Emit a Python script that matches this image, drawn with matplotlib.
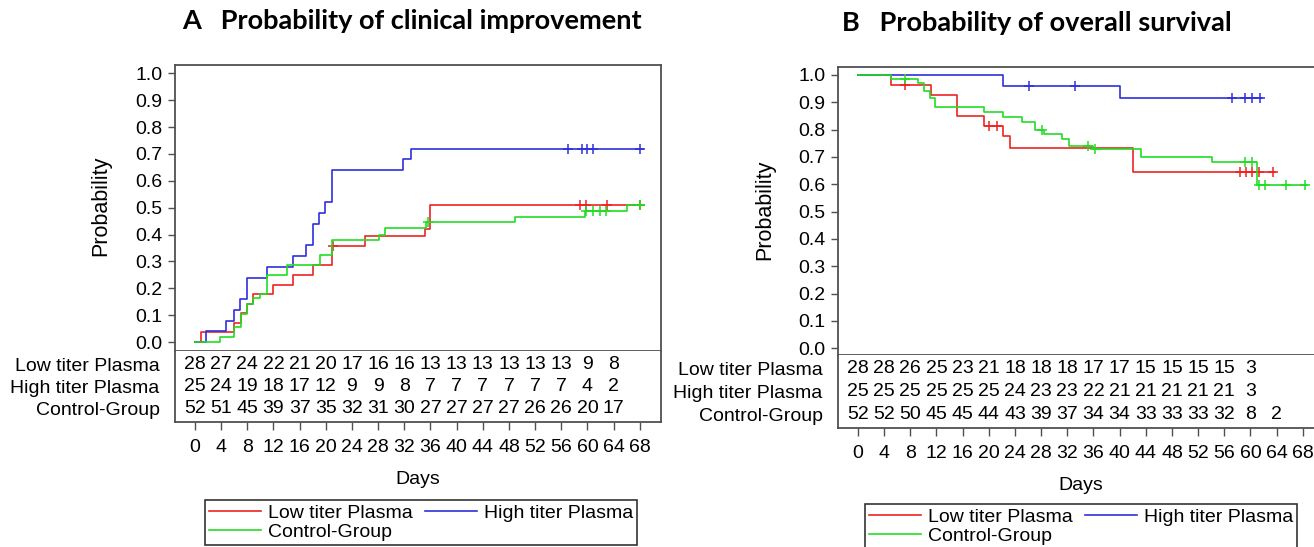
import numpy as np
import matplotlib
matplotlib.use('Agg')
import matplotlib.pyplot as plt
from matplotlib.lines import Line2D

plt.rcParams['font.family'] = ['Liberation Sans', 'DejaVu Sans']

# ---- data ----
groups = ['Low titer Plasma', 'High titer Plasma', 'Control-Group']
colors = ['#ee2222', '#3030dd', '#22dd22']
risk_days = list(range(0, 69, 4))

# A: clinical improvement (cumulative, step up)
imp_low_t = [0, 0.9, 6.0, 7.0, 7.9, 8.9, 11.9, 15.0, 18.1, 20.9, 26.0, 35.1, 35.9, 68.5]
imp_low_p = [0, 0.036, 0.071, 0.107, 0.143, 0.179, 0.214, 0.25, 0.286, 0.357, 0.395, 0.42, 0.51, 0.51]
imp_low_cens = [21.1, 58.9, 59.8, 63.0, 68.0]

imp_high_t = [0, 1.7, 4.8, 6.0, 6.9, 7.9, 11.0, 15.0, 17.0, 18.0, 19.0, 19.9, 20.9, 31.8, 33.0, 68.5]
imp_high_p = [0, 0.04, 0.08, 0.12, 0.16, 0.24, 0.28, 0.32, 0.36, 0.44, 0.48, 0.52, 0.64, 0.68, 0.72, 0.72]
imp_high_cens = [57.1, 59.1, 59.9, 60.9, 68.0]

imp_ctrl_t = [0, 3.8, 6.0, 7.0, 8.0, 8.9, 9.9, 11.0, 14.0, 19.1, 20.9, 28.1, 29.1, 35.3, 48.9, 59.6, 66.0, 68.5]
imp_ctrl_p = [0, 0.019, 0.056, 0.103, 0.14, 0.165, 0.178, 0.25, 0.286, 0.325, 0.38, 0.40, 0.425, 0.447, 0.465, 0.487, 0.51, 0.51]
imp_ctrl_cens = [35.6, 59.8, 60.9, 61.9, 62.9, 68.0]

imp_risk_low = [28, 27, 24, 22, 21, 20, 17, 16, 16, 13, 13, 13, 13, 13, 13, 9, 8]
imp_risk_high = [25, 24, 19, 18, 17, 12, 9, 9, 8, 7, 7, 7, 7, 7, 7, 4, 2]
imp_risk_ctrl = [52, 51, 45, 39, 37, 35, 32, 31, 30, 27, 27, 27, 27, 26, 26, 20, 17]

# B: overall survival (step down)
os_low_t = [0, 5.0, 11.1, 15.1, 19.3, 22.1, 23.3, 42.1, 63.8]
os_low_p = [1.0, 0.964, 0.928, 0.851, 0.814, 0.776, 0.733, 0.645, 0.645]
os_low_cens = [7.2, 20.1, 21.2, 58.4, 59.3, 60.3, 61.3, 63.5]

os_high_t = [0, 22.1, 40.0, 61.8]
os_high_p = [1.0, 0.96, 0.915, 0.915]
os_high_cens = [26.2, 33.2, 57.2, 59.2, 60.3, 61.5]

os_ctrl_t = [0, 5.0, 9.1, 10.1, 11.0, 11.8, 19.3, 22.1, 25.1, 27.1, 28.4, 31.2, 32.3, 36.0, 43.2, 54.1, 61.0, 68.7]
os_ctrl_p = [1.0, 0.985, 0.969, 0.94, 0.916, 0.882, 0.866, 0.845, 0.826, 0.80, 0.783, 0.764, 0.74, 0.73, 0.70, 0.683, 0.596, 0.596]
os_ctrl_cens = [7.2, 28.2, 35.2, 36.2, 59.2, 60.2, 61.3, 62.3, 65.4, 68.4]

os_risk_low = [28, 28, 26, 25, 23, 21, 18, 18, 18, 17, 17, 15, 15, 15, 15, 3]
os_risk_high = [25, 25, 25, 25, 25, 25, 24, 23, 23, 22, 21, 21, 21, 21, 21, 3]
os_risk_ctrl = [52, 52, 50, 45, 45, 44, 43, 39, 37, 34, 34, 33, 33, 33, 32, 8, 2]

W, H = 1314, 547
fig = plt.figure(figsize=(W / 100, H / 100), dpi=100)
FS = 14
EDGE = '#505050'


def box(l, t, r, b):
    return [l / W, 1 - b / H, (r - l) / W, (b - t) / H]


def step_val(t, times, vals):
    i = np.searchsorted(times, t, side='right') - 1
    return np.asarray(vals)[i]


def panel(px, curves, risks, ylim):
    l, t, sep, bot, r = px
    ax = fig.add_axes(box(l, t, r, sep))
    tax = fig.add_axes(box(l, sep, r, bot))
    for (tt, pp, cc), col in zip(curves, colors):
        ax.step(tt, pp, where='post', color=col, lw=1.2)
        ax.plot(cc, step_val(cc, tt, pp), ls='none', marker='+', ms=7, mew=1.1, color=col)
    ax.set_xlim(-3.06, 71.25)
    ax.set_ylim(*ylim)
    ax.set_xticks([])
    ax.set_yticks(np.arange(0, 1.01, 0.1))
    ax.set_yticklabels(['%.1f' % v for v in np.arange(0, 1.01, 0.1)])
    ax.tick_params(axis='y', direction='out', length=5, width=1, color=EDGE, labelsize=FS, pad=4)
    for s in ax.spines.values():
        s.set_color(EDGE)
        s.set_linewidth(1.3)

    rows = [0.81, 0.5, 0.19]
    for vals, y in zip(risks, rows):
        for d, v in zip(risk_days, vals):
            tax.text(d, y, str(v), ha='center', va='center', fontsize=FS)
    tax.set_xlim(-3.06, 71.25)
    tax.set_ylim(0, 1)
    tax.set_yticks(rows)
    tax.set_yticklabels(groups, fontsize=FS)
    tax.tick_params(axis='y', length=0, pad=11)
    tax.set_xticks(risk_days)
    tax.tick_params(axis='x', direction='out', length=6, width=1, color=EDGE, labelsize=FS, pad=6)
    tax.spines['top'].set_visible(False)
    for s in ['left', 'right', 'bottom']:
        tax.spines[s].set_color(EDGE)
        tax.spines[s].set_linewidth(1.3)
    return ax, tax


panel((175, 65, 351, 422, 661),
      [(imp_low_t, imp_low_p, imp_low_cens),
       (imp_high_t, imp_high_p, imp_high_cens),
       (imp_ctrl_t, imp_ctrl_p, imp_ctrl_cens)],
      [imp_risk_low, imp_risk_high, imp_risk_ctrl], (-0.033, 1.031))

panel((838, 67, 355, 428, 1324),
      [(os_low_t, os_low_p, os_low_cens),
       (os_high_t, os_high_p, os_high_cens),
       (os_ctrl_t, os_ctrl_p, os_ctrl_cens)],
      [os_risk_low, os_risk_high, os_risk_ctrl], (-0.025, 1.029))

# titles and axis labels
tkw = dict(fontsize=19.5, fontweight='bold', family='Lato', ha='center', va='center')
fig.text(412 / W, 1 - 21 / H, 'A   Probability of clinical improvement', **tkw)
fig.text(1037 / W, 1 - 23 / H, 'B   Probability of overall survival', **tkw)
fig.text(101 / W, 1 - 206 / H, 'Probability', rotation=90, fontsize=15.5, ha='center', va='center')
fig.text(765 / W, 1 - 210 / H, 'Probability', rotation=90, fontsize=15.5, ha='center', va='center')
fig.text(418 / W, 1 - 480 / H, 'Days', fontsize=FS, ha='center', va='center')
fig.text(1081 / W, 1 - 485 / H, 'Days', fontsize=FS, ha='center', va='center')

# legends (row-wise: Low, High / Control)
handles = [Line2D([], [], color=c, lw=1.2) for c in colors]
order = [0, 2, 1]
for lx, ly in [(205, 500), (865, 504)]:
    leg = fig.legend([handles[i] for i in order], [groups[i] for i in order],
                     ncol=2, loc='upper left', bbox_to_anchor=(lx / W, 1 - ly / H),
                     fontsize=FS, frameon=True, fancybox=False, framealpha=1,
                     edgecolor='#333333', borderpad=0.2, borderaxespad=0,
                     handlelength=2.7, handletextpad=0.35, columnspacing=0.6,
                     labelspacing=0.1)
    leg.get_frame().set_linewidth(1.2)

fig.savefig('out.png', dpi=100)
